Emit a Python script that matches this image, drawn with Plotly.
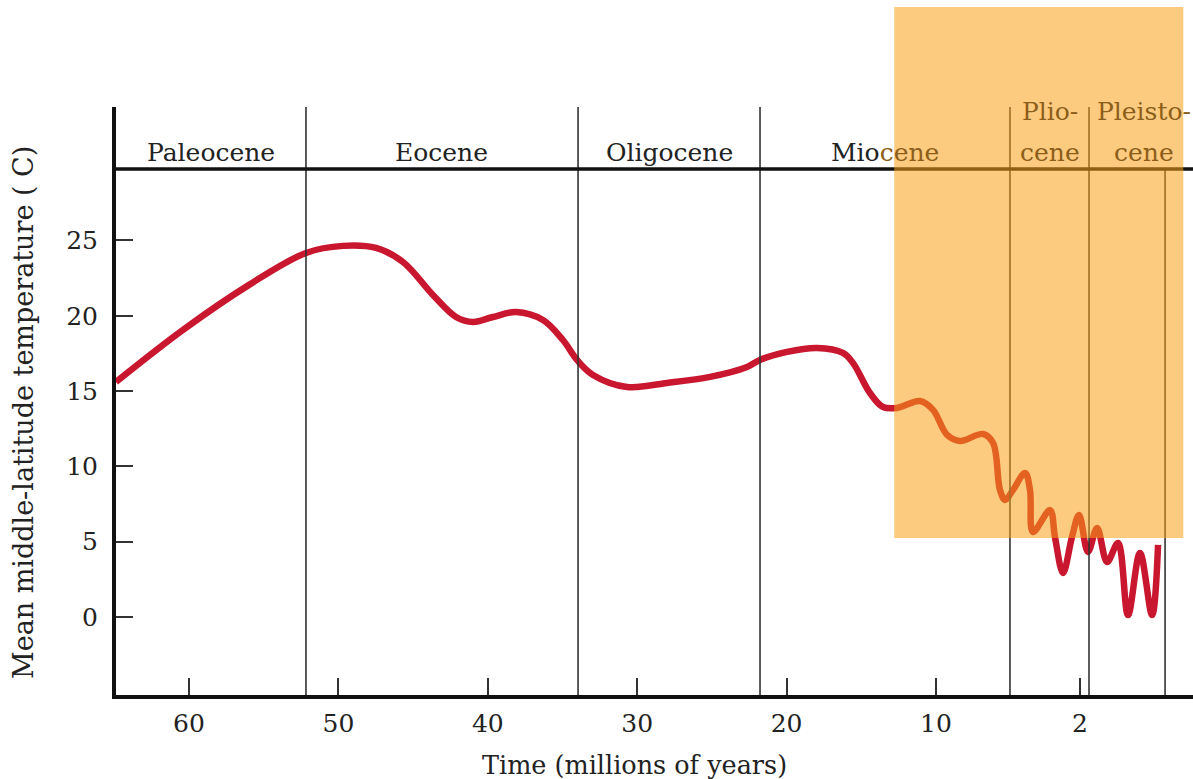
import plotly.graph_objects as go

# ---- data (x = position on the chart's time axis, labelled by tick text) ----
time_pos = [64.89, 60.4, 55.98, 52.17, 49.69, 47.48, 45.68, 43.67, 42.13, 40.99,
            39.65, 38.11, 36.31, 34.97, 34.03, 32.96, 30.68, 28.0, 25.13, 22.65,
            21.78, 19.97, 17.97, 16.23, 15.56, 14.42, 13.55, 12.61, 11.07, 10.20,
            9.26, 8.39, 6.85, 6.18, 5.72, 5.38, 4.85, 4.04, 3.71, 3.51,
            2.37, 2.04, 1.50, 0.90, 0.43, -0.17, -0.78, -1.45, -2.18, -2.85,
            -3.65, -4.46, -4.86]
temperature = [15.60, 19.06, 22.05, 24.17, 24.64, 24.50, 23.57, 21.38, 19.92, 19.59,
               19.92, 20.25, 19.72, 18.39, 17.07, 16.07, 15.27, 15.54, 15.94, 16.60,
               17.07, 17.60, 17.86, 17.53, 16.87, 14.87, 13.94, 13.88, 14.34, 13.75,
               12.09, 11.69, 12.15, 11.55, 8.43, 7.77, 8.43, 9.56, 8.43, 5.64,
               7.10, 5.31, 2.92, 5.31, 6.77, 4.32, 5.91, 3.65, 4.91, 0.13,
               4.25, 0.13, 4.78]

x_tick_pos = [60, 50, 40, 30, 20, 10, 0.36]
x_tick_text = ["60", "50", "40", "30", "20", "10", "2"]
y_tick_vals = [0, 5, 10, 15, 20, 25]

epoch_bounds_full = [52.17, 33.96, 21.78, 5.05, -0.24]   # full-height dividers
epoch_bound_short = -5.33                                  # below header only
header_temp = 29.75

epoch_names = ["Paleocene", "Eocene", "Oligocene",
               "Mio<span style='color:#8C5E1A'>cene</span>"]
epoch_centers = [58.5, 43.07, 27.87, 13.4]
two_line_epochs = [("Plio-", "cene", 2.37), ("Pleisto-", "cene", -3.92)]

highlight_x = [12.8, -6.55]
highlight_y_paper = [0.267, 1.170]
highlight_color = "rgb(251,160,24)"

X_RANGE = [64.886, -7.20]
Y_RANGE = [-5.18, 33.86]

x_title = "Time (millions of years)"
y_title = "Mean middle-latitude temperature ( C)"

FONT = "DejaVu Serif"
TEXT = "#222222"
BROWN = "#8C5E1A"

fig = go.Figure()
fig.add_trace(go.Scatter(
    x=time_pos, y=temperature, mode="lines",
    line=dict(color="#C8172E", width=6.5, shape="spline", smoothing=1.0),
    hoverinfo="skip", showlegend=False,
))

shapes = []
for b in epoch_bounds_full:
    shapes.append(dict(type="line", xref="x", yref="paper", x0=b, x1=b, y0=0, y1=1,
                       line=dict(color="#333333", width=1.6), layer="above"))
shapes.append(dict(type="line", xref="x", yref="y", x0=epoch_bound_short, x1=epoch_bound_short,
                   y0=Y_RANGE[0], y1=header_temp,
                   line=dict(color="#333333", width=1.6), layer="above"))
shapes.append(dict(type="line", xref="paper", yref="y", x0=0, x1=1, y0=header_temp, y1=header_temp,
                   line=dict(color="#111111", width=3.5), layer="above"))
shapes.append(dict(type="rect", xref="x", yref="paper",
                   x0=highlight_x[0], x1=highlight_x[1],
                   y0=highlight_y_paper[0], y1=highlight_y_paper[1],
                   fillcolor=highlight_color, opacity=0.55, line=dict(width=0), layer="above"))

annotations = []
for name, c in zip(epoch_names, epoch_centers):
    annotations.append(dict(x=c, y=30.84, xref="x", yref="y", text=name, showarrow=False,
                            xanchor="center", yanchor="middle",
                            font=dict(family=FONT, size=25, color=TEXT)))
for top, bottom, c in two_line_epochs:
    annotations.append(dict(x=c, y=33.56, xref="x", yref="y", text=top, showarrow=False,
                            xanchor="center", yanchor="middle",
                            font=dict(family=FONT, size=25, color=BROWN)))
    annotations.append(dict(x=c, y=30.84, xref="x", yref="y", text=bottom, showarrow=False,
                            xanchor="center", yanchor="middle",
                            font=dict(family=FONT, size=25, color=BROWN)))
# axis titles
annotations.append(dict(x=0.481, y=0, xref="paper", yref="paper", yshift=-70,
                        text=x_title, showarrow=False, xanchor="center", yanchor="middle",
                        font=dict(family=FONT, size=25.5, color=TEXT)))
annotations.append(dict(x=0, y=0.4796, xref="paper", yref="paper", xshift=-92,
                        text=y_title, showarrow=False, textangle=-90,
                        xanchor="center", yanchor="middle",
                        font=dict(family=FONT, size=27, color=TEXT)))

fig.update_layout(
    width=1193, height=779,
    margin=dict(l=116, r=0, t=107, b=84),
    paper_bgcolor="white", plot_bgcolor="white",
    font=dict(family=FONT, size=24, color=TEXT),
    shapes=shapes, annotations=annotations,
    showlegend=False,
)
fig.update_xaxes(
    range=X_RANGE, tickmode="array", tickvals=x_tick_pos, ticktext=x_tick_text,
    showgrid=False, zeroline=False, showline=True, linecolor="#111111", linewidth=3.5,
    ticks="inside", ticklen=17, tickwidth=1.6, tickcolor="#333333",
    ticklabelstandoff=3,
    tickfont=dict(family=FONT, size=25, color=TEXT),
)
fig.update_yaxes(
    range=Y_RANGE, tickmode="array", tickvals=y_tick_vals,
    showgrid=False, zeroline=False, showline=True, linecolor="#111111", linewidth=4,
    ticks="inside", ticklen=17, tickwidth=1.6, tickcolor="#333333",
    ticklabelstandoff=9,
    tickfont=dict(family=FONT, size=25, color=TEXT),
)

fig.write_html("out.html")
